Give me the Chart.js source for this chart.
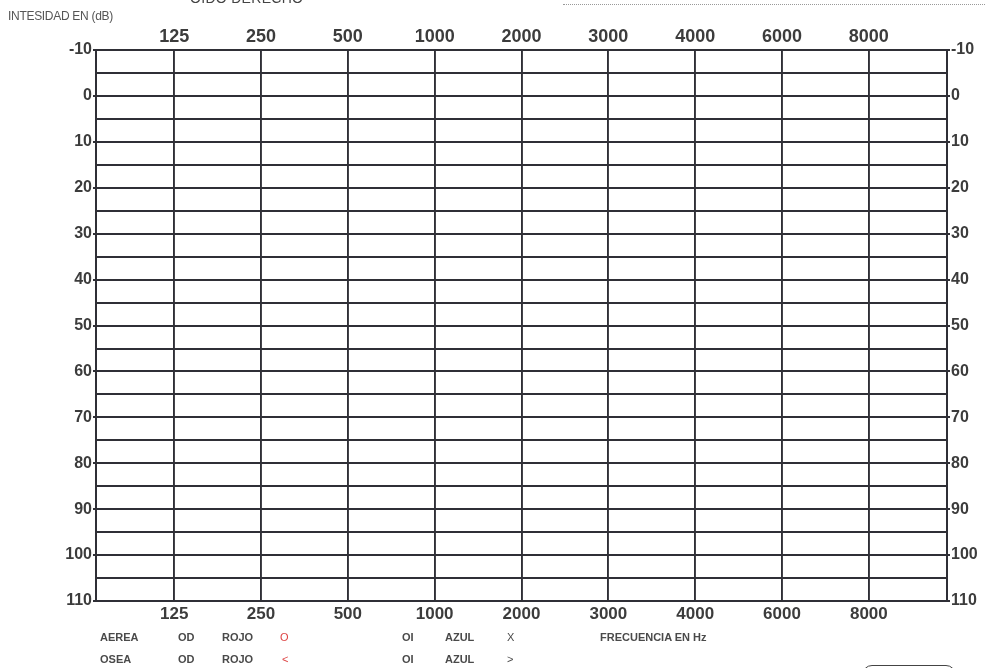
<!DOCTYPE html>
<html>
<head>
<meta charset="utf-8">
<script src="https://cdn.jsdelivr.net/npm/chart.js@4/dist/chart.umd.min.js"></script>
<style>
  html, body { margin:0; padding:0; background:#ffffff; }
  #wrap { position:relative; width:989px; height:668px; overflow:hidden; background:#fff; font-family:"Liberation Sans", Arial, sans-serif; }
  #c { position:absolute; left:0; top:0; }
  .t { position:absolute; white-space:nowrap; color:#4a4a4a; font-weight:bold; font-size:11px; line-height:11px; }
</style>
</head>
<body>
<div id="wrap">
  <canvas id="c" width="989" height="668"></canvas>
  <div class="t" style="left:8px;top:10px;font-weight:normal;font-size:12px;line-height:12px;color:#555;letter-spacing:-0.3px;">INTESIDAD EN (dB)</div>
  <div class="t" style="left:190px;top:-9px;font-weight:normal;font-size:14px;line-height:14px;color:#444;letter-spacing:0.3px;">OIDO DERECHO</div>
  <div style="position:absolute;left:563px;top:4px;width:422px;border-top:1px dotted #999;"></div>

  <div class="t" style="left:100px;top:632px;">AEREA</div>
  <div class="t" style="left:178px;top:632px;">OD</div>
  <div class="t" style="left:222px;top:632px;">ROJO</div>
  <div class="t" style="left:280px;top:632px;color:#d44;font-weight:normal;">O</div>
  <div class="t" style="left:402px;top:632px;">OI</div>
  <div class="t" style="left:445px;top:632px;">AZUL</div>
  <div class="t" style="left:507px;top:632px;font-weight:normal;">X</div>
  <div class="t" style="left:600px;top:632px;">FRECUENCIA EN Hz</div>

  <div class="t" style="left:100px;top:654px;">OSEA</div>
  <div class="t" style="left:178px;top:654px;">OD</div>
  <div class="t" style="left:222px;top:654px;">ROJO</div>
  <div class="t" style="left:282px;top:654px;color:#d44;font-weight:normal;">&lt;</div>
  <div class="t" style="left:402px;top:654px;">OI</div>
  <div class="t" style="left:445px;top:654px;">AZUL</div>
  <div class="t" style="left:507px;top:654px;font-weight:normal;">&gt;</div>

  <div style="position:absolute;left:862px;top:665px;width:92px;height:20px;border:1.5px solid #444;border-radius:10px;"></div>
</div>
<script>
// ---- data ----
const frequencies = ['125', '250', '500', '1000', '2000', '3000', '4000', '6000', '8000'];
const dbTicks = [-10, 0, 10, 20, 30, 40, 50, 60, 70, 80, 90, 100, 110];
// The form is blank: no thresholds plotted
const rightAir = [];   // OD aérea (rojo, O)
const leftAir = [];    // OI aérea (azul, X)
const rightBone = [];  // OD ósea (rojo, <)
const leftBone = [];   // OI ósea (azul, >)

const gridColor = '#2f2f36';
const textColor = '#3c3c3c';
const dbMin = dbTicks[0], dbMax = dbTicks[dbTicks.length - 1];

function freqTicks(scale) {
  scale.ticks = frequencies.map((f, i) => ({ value: i }));
}
function freqLabel(v) { return frequencies[v] !== undefined ? frequencies[v] : ''; }
function dbLabel(v) { return dbTicks.includes(v) ? String(v) : ''; }
function dbTickColor(ctx) { return (ctx.tick && dbTicks.includes(ctx.tick.value)) ? gridColor : 'rgba(0,0,0,0)'; }

new Chart(document.getElementById('c'), {
  type: 'scatter',
  data: {
    datasets: [
      { label: 'OD aérea', data: rightAir, borderColor: '#d33', pointStyle: 'circle' },
      { label: 'OI aérea', data: leftAir, borderColor: '#33c', pointStyle: 'crossRot' },
      { label: 'OD ósea', data: rightBone, borderColor: '#d33' },
      { label: 'OI ósea', data: leftBone, borderColor: '#33c' }
    ]
  },
  options: {
    responsive: false,
    animation: false,
    layout: { padding: 0 },
    plugins: { legend: { display: false }, tooltip: { enabled: false } },
    scales: {
      x: {
        type: 'linear', position: 'bottom', min: -0.9, max: 8.9,
        afterBuildTicks: freqTicks,
        afterFit: s => { s.height = 67; },
        grid: { color: gridColor, lineWidth: 1.9, drawTicks: false },
        border: { display: true, color: gridColor, width: 2 },
        ticks: { callback: freqLabel, padding: 3, color: textColor, font: { family: 'Liberation Sans', size: 17, weight: 'bold' }, autoSkip: false, maxRotation: 0 }
      },
      x2: {
        type: 'linear', position: 'top', min: -0.9, max: 8.9,
        afterBuildTicks: freqTicks,
        afterFit: s => { s.height = 50; },
        grid: { drawOnChartArea: false, drawTicks: false },
        border: { display: true, color: gridColor, width: 2 },
        ticks: { callback: freqLabel, padding: 2, color: textColor, font: { family: 'Liberation Sans', size: 18, weight: 'bold' }, autoSkip: false, maxRotation: 0 }
      },
      y: {
        type: 'linear', position: 'left', reverse: true, min: dbMin, max: dbMax,
        afterFit: s => { s.width = 96; },
        grid: { color: gridColor, lineWidth: 1.9, tickLength: 3, tickColor: dbTickColor },
        border: { display: true, color: gridColor, width: 2 },
        ticks: { stepSize: 5, autoSkip: false, callback: dbLabel, padding: 1, color: textColor, font: { family: 'Liberation Sans', size: 16, weight: 'bold' } }
      },
      y2: {
        type: 'linear', position: 'right', reverse: true, min: dbMin, max: dbMax,
        afterFit: s => { s.width = 42; },
        grid: { drawOnChartArea: false, lineWidth: 1.9, tickLength: 3, tickColor: dbTickColor },
        border: { display: true, color: gridColor, width: 2 },
        ticks: { stepSize: 5, autoSkip: false, callback: dbLabel, padding: 1, color: textColor, font: { family: 'Liberation Sans', size: 16, weight: 'bold' } }
      }
    }
  }
});
</script>
</body>
</html>
